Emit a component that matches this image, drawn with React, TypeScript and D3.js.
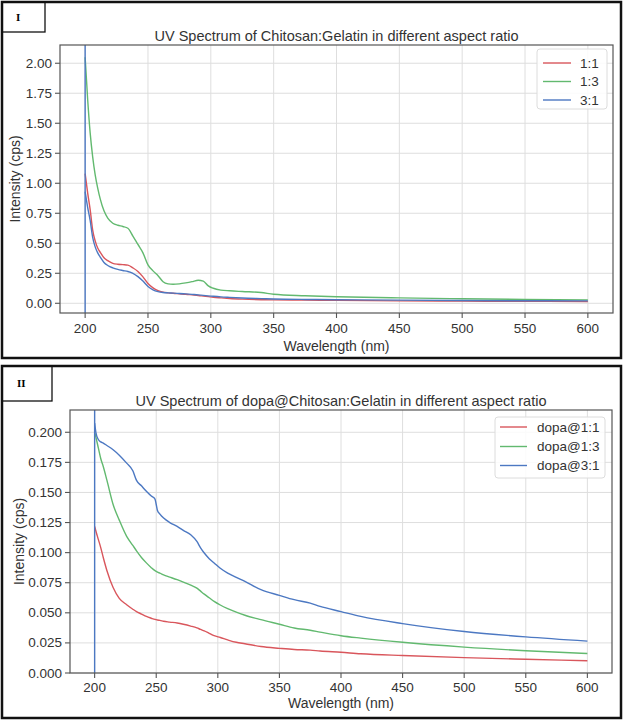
import React from "react";
import * as d3 from "d3";

// ---------- DATA ----------
const xTicks = [200, 250, 300, 350, 400, 450, 500, 550, 600];
const yTicksI = [0, 0.25, 0.5, 0.75, 1.0, 1.25, 1.5, 1.75, 2.0];
const yTicksII = [0, 0.025, 0.05, 0.075, 0.1, 0.125, 0.15, 0.175, 0.2];
const markerWavelength = 200;

const titleI = "UV Spectrum of Chitosan:Gelatin in different aspect ratio";
const titleII = "UV Spectrum of dopa@Chitosan:Gelatin in different aspect ratio";
const xLabel = "Wavelength (nm)";
const yLabel = "Intensity (cps)";

const seriesNamesI = ["1:1", "1:3", "3:1"];
const seriesNamesII = ["dopa@1:1", "dopa@1:3", "dopa@3:1"];

const wavelengthI = [200, 202, 204, 206, 208, 210, 212, 215, 218, 222, 226, 230, 234, 238, 242, 246, 250, 254, 258, 262, 266, 270, 275, 280, 285, 290, 294, 298, 302, 308, 315, 325, 340, 350, 375, 400, 450, 500, 550, 600];
const ratio11 = [1.08, 0.92, 0.78, 0.61, 0.52, 0.46, 0.425, 0.38, 0.355, 0.333, 0.325, 0.322, 0.318, 0.295, 0.265, 0.22, 0.165, 0.128, 0.105, 0.093, 0.087, 0.083, 0.079, 0.075, 0.07, 0.065, 0.06, 0.055, 0.05, 0.045, 0.04, 0.035, 0.03, 0.028, 0.026, 0.025, 0.02, 0.018, 0.016, 0.015];
const ratio13 = [2.05, 1.7, 1.42, 1.22, 1.07, 0.96, 0.87, 0.77, 0.71, 0.667, 0.65, 0.64, 0.625, 0.56, 0.49, 0.42, 0.32, 0.27, 0.23, 0.18, 0.162, 0.158, 0.162, 0.17, 0.18, 0.192, 0.185, 0.145, 0.125, 0.11, 0.104, 0.098, 0.09, 0.075, 0.063, 0.055, 0.045, 0.038, 0.032, 0.028];
const ratio31 = [0.93, 0.8, 0.69, 0.55, 0.47, 0.42, 0.385, 0.34, 0.315, 0.295, 0.282, 0.273, 0.265, 0.25, 0.222, 0.185, 0.14, 0.112, 0.097, 0.09, 0.087, 0.085, 0.082, 0.078, 0.074, 0.07, 0.066, 0.062, 0.058, 0.053, 0.049, 0.044, 0.039, 0.036, 0.032, 0.03, 0.026, 0.023, 0.021, 0.02];

const wavelengthII = [200, 201, 203, 205, 207, 210, 215, 220, 226, 231, 234, 238, 242, 246, 249, 250, 251, 253, 256, 261, 267, 272, 278, 283, 286, 289, 293, 297, 302, 308, 315, 322, 335, 350, 362, 375, 383, 400, 416, 450, 500, 550, 600];
const dopa11 = [0.1218, 0.118, 0.111, 0.104, 0.096, 0.085, 0.071, 0.062, 0.0567, 0.053, 0.051, 0.049, 0.047, 0.0455, 0.0445, 0.0443, 0.044, 0.0437, 0.043, 0.0423, 0.0415, 0.0405, 0.039, 0.0375, 0.0362, 0.035, 0.033, 0.031, 0.0295, 0.0275, 0.0255, 0.0243, 0.022, 0.0205, 0.0195, 0.019, 0.0183, 0.0172, 0.016, 0.0145, 0.0128, 0.0114, 0.0102];
const dopa13 = [0.2, 0.196, 0.187, 0.178, 0.1716, 0.16, 0.14, 0.127, 0.1135, 0.106, 0.1015, 0.096, 0.0915, 0.0875, 0.085, 0.0844, 0.0838, 0.083, 0.0815, 0.0797, 0.0775, 0.0755, 0.073, 0.0705, 0.068, 0.0655, 0.0625, 0.0595, 0.0565, 0.0535, 0.0505, 0.048, 0.0443, 0.0405, 0.0374, 0.0355, 0.034, 0.031, 0.029, 0.0255, 0.0215, 0.0185, 0.0162];
const dopa31 = [0.2076, 0.2, 0.194, 0.192, 0.191, 0.189, 0.1855, 0.181, 0.1744, 0.168, 0.16, 0.1555, 0.151, 0.147, 0.1445, 0.14, 0.135, 0.132, 0.1287, 0.125, 0.1218, 0.1185, 0.1149, 0.1093, 0.104, 0.0997, 0.095, 0.0914, 0.087, 0.083, 0.0795, 0.0761, 0.0692, 0.0645, 0.0609, 0.058, 0.0553, 0.051, 0.047, 0.041, 0.0345, 0.03, 0.0265];

const colors = ["#d9565c", "#62b96f", "#4c78c2"];

// ---------- COMPONENTS ----------
const FONT = "'Liberation Sans', Arial, sans-serif";
const TEXT = "#333";

type PanelProps = {
  left: number; right: number; top: number; bottom: number;
  yDomain: [number, number];
  yTicks: number[];
  yFmt: (v: number) => string;
  title: string; titleY: number;
  xTickY: number; xLabelY: number; yLabelX: number;
  wavelength: number[];
  series: number[][];
  names: string[];
  legend: { x: number; y: number; w: number; h: number; lineX: number; lineW: number; textX: number; rowY: number[] };
  clipId: string;
};

function Panel(p: PanelProps) {
  const x = d3.scaleLinear().domain([180, 620]).range([p.left, p.right]);
  const y = d3.scaleLinear().domain(p.yDomain).range([p.bottom, p.top]);
  const line = d3.line<[number, number]>()
    .x((d) => x(d[0]))
    .y((d) => y(d[1]))
    .curve(d3.curveMonotoneX);
  const cx = (p.left + p.right) / 2;
  const cy = (p.top + p.bottom) / 2;
  return (
    <g>
      <defs>
        <clipPath id={p.clipId}>
          <rect x={p.left} y={p.top} width={p.right - p.left} height={p.bottom - p.top} />
        </clipPath>
      </defs>
      {/* grid */}
      {xTicks.map((t) => (
        <line key={"gx" + t} x1={x(t)} x2={x(t)} y1={p.top} y2={p.bottom} stroke="#dedede" strokeWidth={1} />
      ))}
      {p.yTicks.map((t) => (
        <line key={"gy" + t} x1={p.left} x2={p.right} y1={y(t)} y2={y(t)} stroke="#dedede" strokeWidth={1} />
      ))}
      {/* series */}
      <g clipPath={`url(#${p.clipId})`}>
        {p.series.map((s, i) => (
          <path key={i} d={line(p.wavelength.map((w, j) => [w, s[j]] as [number, number])) || ""}
            fill="none" stroke={colors[i]} strokeWidth={1.4} />
        ))}
        <line x1={x(markerWavelength)} x2={x(markerWavelength)} y1={p.top} y2={p.bottom} stroke={colors[2]} strokeWidth={1.4} />
      </g>
      {/* spines */}
      <rect x={p.left} y={p.top} width={p.right - p.left} height={p.bottom - p.top} fill="none" stroke="#555" strokeWidth={1.2} />
      {/* x ticks */}
      {xTicks.map((t) => (
        <g key={"xt" + t}>
          <line x1={x(t)} x2={x(t)} y1={p.bottom} y2={p.bottom + 5} stroke="#555" strokeWidth={1.1} />
          <text x={x(t)} y={p.xTickY} textAnchor="middle" dominantBaseline="central" fontSize={13.5} fill={TEXT} fontFamily={FONT}>{t}</text>
        </g>
      ))}
      {p.yTicks.map((t) => (
        <g key={"yt" + t}>
          <line x1={p.left - 5} x2={p.left} y1={y(t)} y2={y(t)} stroke="#555" strokeWidth={1.1} />
          <text x={p.left - 8} y={y(t)} textAnchor="end" dominantBaseline="central" fontSize={13.5} fill={TEXT} fontFamily={FONT}>{p.yFmt(t)}</text>
        </g>
      ))}
      <text x={cx} y={p.xLabelY} textAnchor="middle" dominantBaseline="central" fontSize={14} fill={TEXT} fontFamily={FONT}>{xLabel}</text>
      <text transform={`translate(${p.yLabelX},${cy}) rotate(-90)`} textAnchor="middle" dominantBaseline="central" fontSize={14} fill={TEXT} fontFamily={FONT}>{yLabel}</text>
      <text x={cx} y={p.titleY} textAnchor="middle" fontSize={14.5} fill={TEXT} fontFamily={FONT}>{p.title}</text>
      {/* legend */}
      <rect x={p.legend.x} y={p.legend.y} width={p.legend.w} height={p.legend.h} rx={3} fill="white" fillOpacity={0.85} stroke="#dcdcdc" />
      {p.names.map((n, i) => (
        <g key={n}>
          <line x1={p.legend.lineX} x2={p.legend.lineX + p.legend.lineW} y1={p.legend.rowY[i]} y2={p.legend.rowY[i]} stroke={colors[i]} strokeWidth={1.4} />
          <text x={p.legend.textX} y={p.legend.rowY[i]} dominantBaseline="central" fontSize={13.5} fill={TEXT} fontFamily={FONT}>{n}</text>
        </g>
      ))}
    </g>
  );
}

export default function App() {
  return (
    <svg width={625} height={721} style={{ position: "absolute", left: 0, top: 0, background: "white" }}>
      <rect x={0} y={0} width={625} height={721} fill="white" />
      {/* frames */}
      <rect x={2} y={2} width={619} height={356} fill="none" stroke="#111" strokeWidth={2.5} />
      <rect x={2} y={366} width={619} height={352} fill="none" stroke="#111" strokeWidth={2.5} />
      <rect x={2} y={2} width={43} height={30} fill="none" stroke="#111" strokeWidth={1.3} />
      <rect x={2} y={366} width={50} height={35} fill="none" stroke="#111" strokeWidth={1.3} />
      <text x={16} y={21} fontFamily="'Liberation Serif', 'Times New Roman', serif" fontWeight="bold" fontSize={11}>I</text>
      <text x={17} y={387} fontFamily="'Liberation Serif', 'Times New Roman', serif" fontWeight="bold" fontSize={11}>II</text>

      <Panel
        left={60} right={613} top={45} bottom={313}
        yDomain={[-0.081, 2.152]} yTicks={yTicksI} yFmt={d3.format(".2f")}
        title={titleI} titleY={41}
        xTickY={328} xLabelY={346} yLabelX={15}
        wavelength={wavelengthI} series={[ratio11, ratio13, ratio31]} names={seriesNamesI}
        legend={{ x: 537, y: 49, w: 70, h: 60, lineX: 543, lineW: 28, textX: 580, rowY: [63, 81.5, 100] }}
        clipId="clipI"
      />
      <Panel
        left={70} right={612} top={410} bottom={673}
        yDomain={[0, 0.2185]} yTicks={yTicksII} yFmt={d3.format(".3f")}
        title={titleII} titleY={406}
        xTickY={687} xLabelY={703} yLabelX={19}
        wavelength={wavelengthII} series={[dopa11, dopa13, dopa31]} names={seriesNamesII}
        legend={{ x: 495, y: 417, w: 110, h: 61, lineX: 500, lineW: 27, textX: 537, rowY: [427, 446.5, 465.5] }}
        clipId="clipII"
      />
    </svg>
  );
}
